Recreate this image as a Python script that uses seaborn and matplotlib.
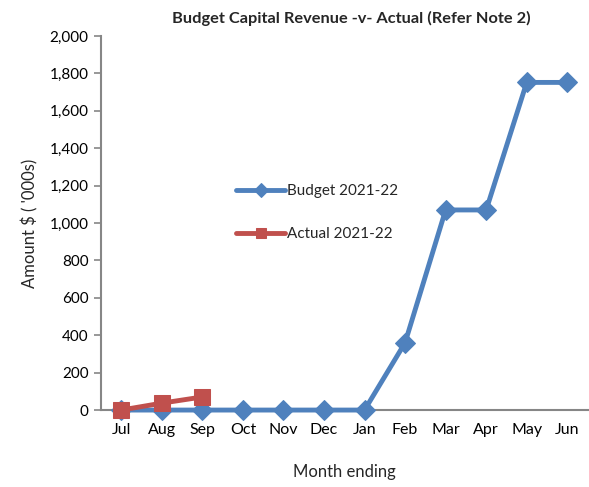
import matplotlib
matplotlib.use("Agg")
import matplotlib.pyplot as plt
import seaborn as sns
import pandas as pd
from matplotlib.ticker import FuncFormatter, MultipleLocator

months = ["Jul", "Aug", "Sep", "Oct", "Nov", "Dec", "Jan", "Feb", "Mar", "Apr", "May", "Jun"]
budget = [0, 0, 0, 0, 0, 0, 0, 360, 1070, 1070, 1752, 1752]
actual = [0, 37, 70]

sns.set_theme(style="white")
plt.rcParams["font.family"] = ["Lato", "DejaVu Sans"]

df_b = pd.DataFrame({"x": range(len(budget)), "y": budget})
df_a = pd.DataFrame({"x": range(len(actual)), "y": actual})

fig = plt.figure(figsize=(5.89, 4.87), dpi=100)
ax = fig.add_axes([0.1715, 0.158, 0.826, 0.768])

blue = "#4F81BD"
red = "#C0504D"
sns.lineplot(data=df_b, x="x", y="y", ax=ax, color=blue, lw=3.5, marker="D",
             markersize=10.5, markeredgecolor=blue, label="Budget 2021-22", sort=False,
             clip_on=False, zorder=3)
sns.lineplot(data=df_a, x="x", y="y", ax=ax, color=red, lw=3.5, marker="s",
             markersize=11, markeredgecolor=red, label="Actual 2021-22", sort=False,
             clip_on=False, zorder=4)

ax.set_xlim(-0.5, 11.5)
ax.set_ylim(0, 2000)
ax.yaxis.set_major_locator(MultipleLocator(200))
ax.yaxis.set_major_formatter(FuncFormatter(lambda v, p: f"{int(v):,}"))
ax.set_xticks(range(len(months)))
ax.set_xticklabels(months)
ax.set_xticks([i - 0.5 for i in range(len(months) + 1)], minor=True)
ax.tick_params(axis="x", which="major", length=0, pad=9, labelsize=11.5, colors="black")
ax.tick_params(axis="x", which="minor", length=5, width=1.2, color="#868686", direction="out")
ax.tick_params(axis="y", which="major", length=5, width=1.2, color="#868686", direction="out",
               labelsize=11, pad=4, left=True)
for t in ax.get_yticklabels() + ax.get_xticklabels():
    t.set_color("black")

for s in ["top", "right"]:
    ax.spines[s].set_visible(False)
for s in ["left", "bottom"]:
    ax.spines[s].set_color("#868686")
    ax.spines[s].set_linewidth(1.5)

ax.set_xlabel("Month ending", fontsize=12, labelpad=20)
ax.set_ylabel("Amount $ ( '000s)", fontsize=12, labelpad=8)
fig.text(0.597, 0.962, "Budget Capital Revenue -v- Actual (Refer Note 2)", ha="center",
         va="center", fontsize=11.8, fontweight="bold")

leg = ax.legend(loc="upper left", bbox_to_anchor=(0.25, 0.64), frameon=False, fontsize=11,
                handlelength=3.2, labelspacing=1.9, handletextpad=0.1, markerscale=0.7)

ax.grid(False)
fig.savefig("out.png", dpi=100)
